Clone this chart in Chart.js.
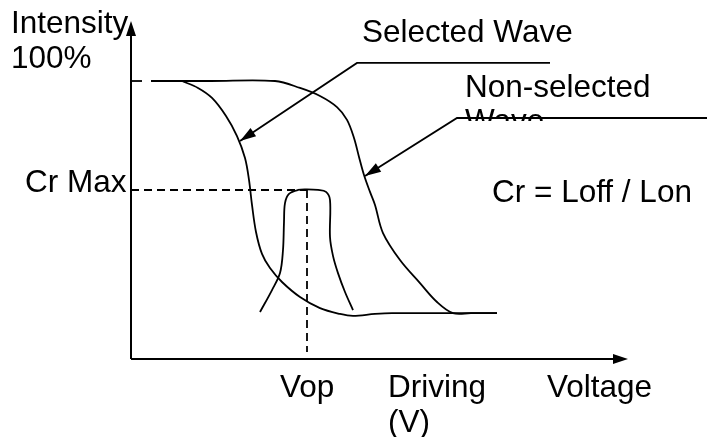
<!DOCTYPE html>
<html>
<head>
<meta charset="utf-8">
<script src="https://cdn.jsdelivr.net/npm/chart.js@4/dist/chart.umd.min.js"></script>
<style>
  html, body { margin: 0; padding: 0; background: #fff; }
  canvas { display: block; }
</style>
</head>
<body>
<canvas id="chart" width="707" height="437"></canvas>
<script>
// x = driving voltage (arbitrary units), y = intensity (%)
const selectedV = [10.2, 13.4, 16.2, 19.0, 21.2, 22.8, 23.6, 24.2, 25.0, 26.2, 27.8, 30.2, 33.8, 37.8, 41.8, 44.4, 48.8, 52.2, 62.0, 73.2];
const selectedI = [100, 97.5, 93.9, 87.4, 80.2, 72.3, 64.4, 55.4, 45.7, 37.8, 32.7, 27.7, 22.3, 18.3, 16.2, 15.5, 16.2, 16.5, 16.5, 16.5];

const nonSelectedV = [4.0, 16.0, 28.8, 33.8, 37.8, 41.2, 43.2, 44.6, 45.6, 46.6, 47.8, 48.8, 50.4, 53.8, 57.8, 61.2, 64.4, 68.0, 73.2];
const nonSelectedI = [100, 100, 100, 97.5, 94.6, 90.6, 86.0, 79.5, 72.7, 66.2, 60.1, 55.4, 45.3, 35.6, 27.3, 20.5, 16.5, 16.5, 16.5];

const contrastV = [25.8, 28.2, 29.8, 30.4, 30.6, 30.8, 31.6, 33.4, 35.2, 37.4, 39.0, 39.8, 39.8, 40.4, 41.4, 42.8, 44.4];
const contrastI = [16.9, 24.8, 30.9, 39.2, 49.3, 56.1, 59.4, 60.8, 61.0, 60.8, 60.1, 57.2, 43.9, 37.1, 30.9, 24.1, 17.6];

const crMax = 60.8;
const vop = 35.2;
const axisTopI = 121.6;
const axisEndV = 99.4;

// leader lines: [elbow x, elbow y, end x, arrow tip x, arrow tip y]
const selectedLeader = [45.2, 106.5, 83.8, 21.8, 78.4];
const nonSelectedLeader = [65.2, 86.7, 115.2, 46.8, 65.8];

const labelTexts = ["Intensity", "100%", "Selected Wave", "Non-selected", "Cr = Loff / Lon", "Cr Max", "Vop", "Driving", "(V)", "Voltage"];
const labelV = [-24.0, -24.0, 46.2, 66.8, 72.2, -21.2, 29.8, 51.4, 51.4, 83.2];
const labelI = [117.3, 104.7, 114.0, 94.2, 56.5, 60.1, -13.7, -13.7, -26.3, -13.7];

function pts(xs, ys) {
  return xs.map((x, i) => ({ x: x, y: ys[i] }));
}

function line(data, opts) {
  return Object.assign({
    data: data,
    showLine: true,
    borderColor: "#000",
    borderWidth: 1.8,
    pointRadius: 0,
    tension: 0,
    fill: false,
  }, opts || {});
}

function arrowHead(ctx, x0, y0, x1, y1, len, half) {
  const a = Math.atan2(y1 - y0, x1 - x0);
  ctx.beginPath();
  ctx.moveTo(x1, y1);
  ctx.lineTo(x1 - len * Math.cos(a) + half * Math.sin(a), y1 - len * Math.sin(a) - half * Math.cos(a));
  ctx.lineTo(x1 - len * Math.cos(a) - half * Math.sin(a), y1 - len * Math.sin(a) + half * Math.cos(a));
  ctx.closePath();
  ctx.fill();
}

const decorations = {
  id: "decorations",
  afterDatasetsDraw(chart) {
    const ctx = chart.ctx;
    const px = v => chart.scales.x.getPixelForValue(v);
    const py = i => chart.scales.y.getPixelForValue(i);
    ctx.save();
    ctx.fillStyle = "#000";

    // axis arrows
    arrowHead(ctx, px(0), py(0), px(0), py(axisTopI), 15, 5);
    arrowHead(ctx, px(0), py(0), px(axisEndV), py(0), 15, 5);

    // leader arrows
    [selectedLeader, nonSelectedLeader].forEach(l => {
      arrowHead(ctx, px(l[0]), py(l[1]), px(l[3]), py(l[4]), 16, 5);
    });

    ctx.font = '31.5px "Liberation Sans", Arial, sans-serif';
    ctx.textBaseline = "alphabetic";
    ctx.textAlign = "left";
    labelTexts.forEach((t, i) => {
      ctx.fillText(t, px(labelV[i]), py(labelI[i]));
    });

    // second line of the non-selected label, hidden under its leader
    ctx.save();
    ctx.beginPath();
    ctx.rect(0, 0, chart.width, py(nonSelectedLeader[1]) + 3);
    ctx.clip();
    ctx.fillText("Wave", px(labelV[3]), py(labelI[3]) + 34);
    ctx.restore();

    ctx.restore();
  },
};

new Chart(document.getElementById("chart").getContext("2d"), {
  type: "scatter",
  data: {
    datasets: [
      line([{ x: 0, y: 0 }, { x: 0, y: axisTopI - 3 }], { borderWidth: 2 }),
      line([{ x: 0, y: 0 }, { x: axisEndV - 3, y: 0 }], { borderWidth: 2 }),
      line([{ x: 0, y: 100 }, { x: 4, y: 100 }], { borderDash: [11, 9] }),
      line([{ x: 0, y: crMax }, { x: vop, y: crMax }], { borderDash: [8, 5] }),
      line([{ x: vop, y: crMax }, { x: vop, y: 2.5 }], { borderDash: [8, 5] }),
      line(pts(selectedV, selectedI), { tension: 0.35 }),
      line(pts(nonSelectedV, nonSelectedI), { tension: 0.35 }),
      line(pts(contrastV, contrastI), { tension: 0.35 }),
      line([
        { x: selectedLeader[2], y: selectedLeader[1] },
        { x: selectedLeader[0], y: selectedLeader[1] },
        { x: selectedLeader[3], y: selectedLeader[4] },
      ]),
      line([
        { x: nonSelectedLeader[2], y: nonSelectedLeader[1] },
        { x: nonSelectedLeader[0], y: nonSelectedLeader[1] },
        { x: nonSelectedLeader[3], y: nonSelectedLeader[4] },
      ]),
    ],
  },
  options: {
    responsive: false,
    animation: false,
    layout: { padding: 0 },
    plugins: { legend: { display: false }, tooltip: { enabled: false } },
    scales: {
      x: { type: "linear", display: false, min: -26.2, max: 115.2 },
      y: { type: "linear", display: false, min: -28.06, max: 129.14 },
    },
  },
  plugins: [decorations],
});
</script>
</body>
</html>
